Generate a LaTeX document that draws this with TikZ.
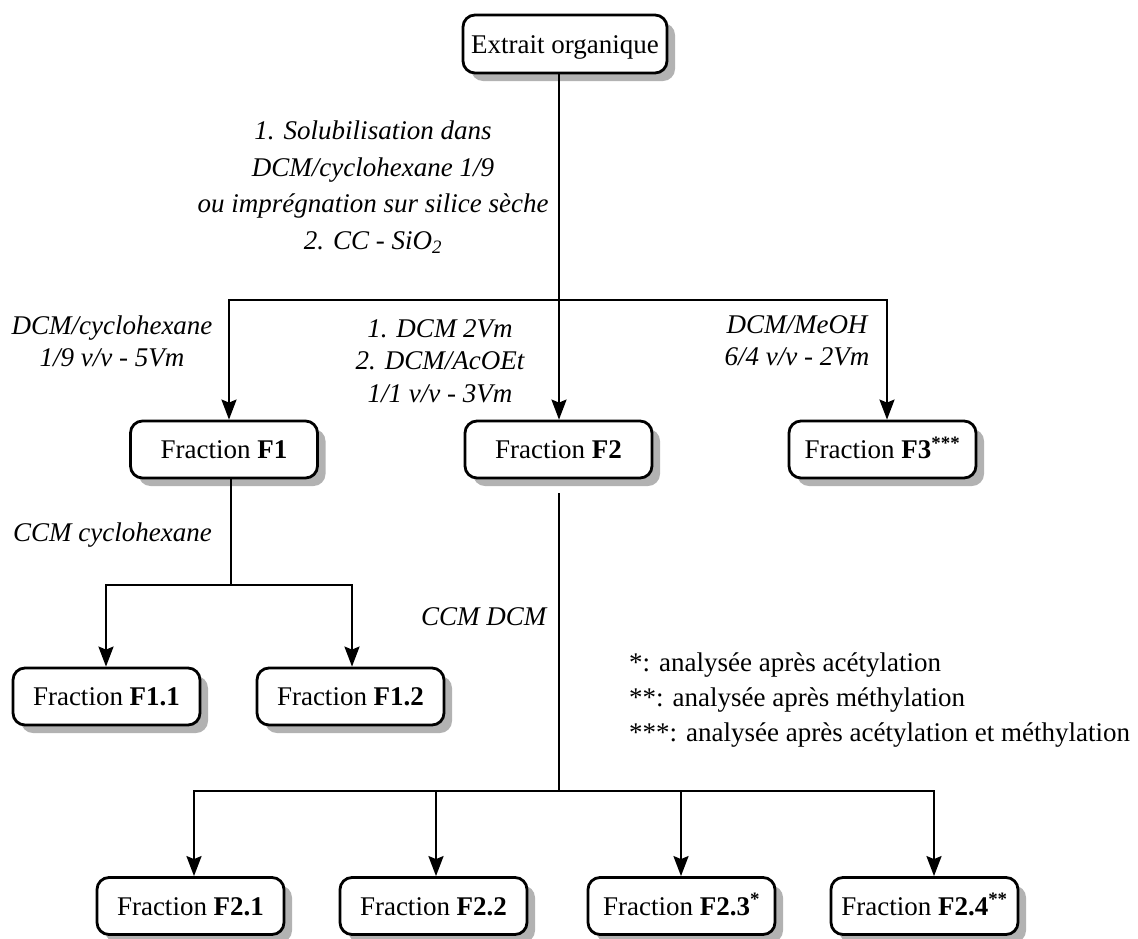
\documentclass[tikz,border=0pt]{standalone}
\usepackage{fontspec}
\setmainfont{Liberation Serif}
\usetikzlibrary{arrows.meta,shadows}
\begin{document}
\begin{tikzpicture}[x=1pt,y=-1pt,
  box/.style={draw, line width=2.8pt, rounded corners=12pt, fill=white,
    minimum width=187pt, minimum height=57pt, inner sep=4pt,
    text height=18pt, text depth=0pt, font=\fontsize{27}{32}\selectfont,
    drop shadow={shadow xshift=8pt, shadow yshift=-8pt, fill=black!30, opacity=1}},
  conn/.style={line width=2.5pt, line cap=rect},
  arr/.style={line width=2.5pt, -{Stealth[length=20pt,width=15pt,inset=3pt]}},
  lab/.style={align=center, inner sep=0pt}]
\useasboundingbox (0,0) rectangle (1138,938);

% boxes
\node[box, minimum width=204pt, minimum height=58pt] (top) at (565,44) {Extrait organique};
\node[box] (f1) at (224,449.5) {Fraction \textbf{F1}};
\node[box] (f2) at (558.5,449.5) {Fraction \textbf{F2}};
\node[box] (f3) at (882.5,449.5) {Fraction \textbf{F3\textsuperscript{***}}};
\node[box] (f11) at (106.5,696.5) {Fraction \textbf{F1.1}};
\node[box] (f12) at (350.5,696.5) {Fraction \textbf{F1.2}};
\node[box] (f21) at (190.5,906) {Fraction \textbf{F2.1}};
\node[box] (f22) at (433.5,906) {Fraction \textbf{F2.2}};
\node[box] (f23) at (681.5,906) {Fraction \textbf{F2.3\textsuperscript{*}}};
\node[box] (f24) at (924.5,906) {Fraction \textbf{F2.4\textsuperscript{**}}};

% junction coordinates
\coordinate (j0) at (559,300);
\coordinate (bL) at (229,300);
\coordinate (bR) at (887,300);
\coordinate (j1) at (231,585);
\coordinate (c11) at (106,585);
\coordinate (c12) at (352,585);
\coordinate (s2) at (559,494);
\coordinate (j2) at (559,791);
\coordinate (d1) at (194,791);
\coordinate (d2) at (436,791);
\coordinate (d3) at (681,791);
\coordinate (d4) at (934,791);

% connectors
\draw[conn] (top.south -| j0) -- (j0);
\draw[conn] (bL) -- (bR);
\draw[arr] (bL) -- (bL |- f1.north);
\draw[arr] (j0) -- (j0 |- f2.north);
\draw[arr] (bR) -- (bR |- f3.north);

\draw[conn] (j1 |- f1.south) -- (j1);
\draw[conn] (c11) -- (c12);
\draw[arr] (c11) -- (c11 |- f11.north);
\draw[arr] (c12) -- (c12 |- f12.north);

\draw[conn] (s2) -- (j2);
\draw[conn] (d1) -- (d4);
\draw[arr] (d1) -- (d1 |- f21.north);
\draw[arr] (d2) -- (d2 |- f22.north);
\draw[arr] (d3) -- (d3 |- f23.north);
\draw[arr] (d4) -- (d4 |- f24.north);

% labels
\node[lab, font=\fontsize{27}{36.7}\selectfont\itshape] (l0) at (373,187)
  {1. Solubilisation dans\\DCM/cyclohexane 1/9\\ou imprégnation sur silice sèche\\2. CC - SiO\textsubscript{2}};
\node[lab, font=\fontsize{27}{32}\selectfont\itshape] (l1) at (112,341)
  {DCM/cyclohexane\\1/9 v/v - 5Vm};
\node[lab, font=\fontsize{27}{32.5}\selectfont\itshape] (l2) at (440,361)
  {1. DCM 2Vm\\2. DCM/AcOEt\\1/1 v/v - 3Vm};
\node[lab, font=\fontsize{27}{32}\selectfont\itshape] (l3) at (797,341)
  {DCM/MeOH\\6/4 v/v - 2Vm};
\node[lab, anchor=west, font=\fontsize{27}{32}\selectfont\itshape] (l4) at (13,535) {CCM cyclohexane};
\node[lab, anchor=west, font=\fontsize{27}{32}\selectfont\itshape] (l5) at (421,617) {CCM DCM};

% legend
\node[anchor=west, align=left, inner sep=0pt, font=\fontsize{27}{35}\selectfont] (leg) at (629,700)
  {*: analysée après acétylation\\**: analysée après méthylation\\***: analysée après acétylation et méthylation};
\end{tikzpicture}
\end{document}
